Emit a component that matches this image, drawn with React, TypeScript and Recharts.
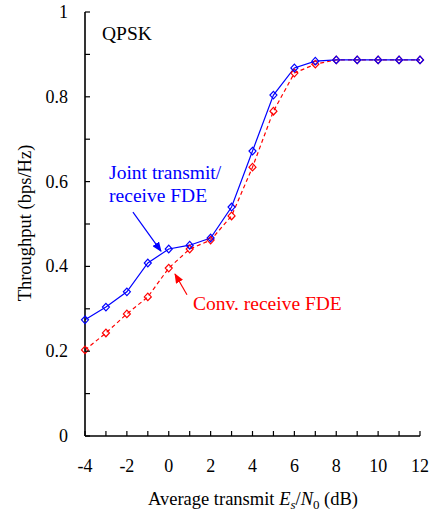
import { LineChart, Line, XAxis, YAxis } from "recharts";

const snr = [-4, -3, -2, -1, 0, 1, 2, 3, 4, 5, 6, 7, 8, 9, 10, 11, 12];
const joint = [0.274, 0.304, 0.34, 0.408, 0.441, 0.45, 0.467, 0.54, 0.672, 0.804, 0.868, 0.884, 0.887, 0.887, 0.887, 0.887, 0.887];
const conv = [0.203, 0.243, 0.288, 0.328, 0.396, 0.441, 0.462, 0.519, 0.634, 0.766, 0.856, 0.877, 0.887, 0.887, 0.887, 0.887, 0.887];

const xTicks = [-4, -3, -2, -1, 0, 1, 2, 3, 4, 5, 6, 7, 8, 9, 10, 11, 12];
const yTicks = [0, 0.1, 0.2, 0.3, 0.4, 0.5, 0.6, 0.7, 0.8, 0.9, 1];

const data = snr.map((s, i) => ({ snr: s, joint: joint[i], conv: conv[i] }));

const W = 434;
const H = 515;
const LEFT = 85;
const RIGHT = 14;
const TOP = 12;
const XAXIS_H = 79;
const PLOT_W = W - LEFT - RIGHT;
const PLOT_H = H - TOP - XAXIS_H;
const FONT = "'Liberation Serif', 'Times New Roman', serif";

// data -> pixel, for the annotations
const sx = (v: number) => LEFT + ((v + 4) / 16) * PLOT_W;
const sy = (v: number) => TOP + (1 - v) * PLOT_H;

const XTick = ({ x, y, payload }: any) => {
  const v = payload.value;
  return (
    <g>
      <line x1={x} x2={x} y1={y} y2={y - 5} stroke="#000" strokeWidth={1.2} />
      {v % 2 === 0 && (
        <text x={x} y={y + 36} textAnchor="middle" fontSize={18} fontFamily={FONT} fill="#000">
          {v}
        </text>
      )}
    </g>
  );
};

const YTick = ({ x, y, payload }: any) => {
  const v = payload.value;
  const even = Math.round(v * 10) % 2 === 0;
  return (
    <g>
      <line x1={x} x2={x + 5} y1={y} y2={y} stroke="#000" strokeWidth={1.2} />
      {even && (
        <text x={x - 17} y={y + 6} textAnchor="end" fontSize={18} fontFamily={FONT} fill="#000">
          {Number(v.toFixed(1))}
        </text>
      )}
    </g>
  );
};

const diamond = (color: string) => (props: any) => {
  const { cx, cy, index } = props;
  if (cx == null || cy == null) return <g key={index} />;
  return (
    <path
      key={index}
      d={`M${cx},${cy - 3.8} L${cx + 3.5},${cy} L${cx},${cy + 3.8} L${cx - 3.5},${cy} Z`}
      fill="none"
      stroke={color}
      strokeWidth={1.2}
    />
  );
};

export default function App() {
  return (
    <div style={{ position: "absolute", left: 0, top: 0, width: W, height: H, background: "#fff" }}>
      <LineChart width={W} height={H} data={data} margin={{ top: TOP, right: RIGHT, bottom: 0, left: 0 }}>
        <XAxis
          dataKey="snr"
          type="number"
          domain={[-4, 12]}
          ticks={xTicks}
          interval={0}
          height={XAXIS_H}
          tickSize={0}
          tickMargin={0}
          tick={<XTick />}
          axisLine={{ stroke: "#000", strokeWidth: 1.6 }}
        />
        <XAxis
          xAxisId="top"
          orientation="top"
          type="number"
          domain={[-4, 12]}
          height={0}
          tick={false}
          tickLine={false}
          axisLine={{ stroke: "#000", strokeWidth: 1.2 }}
        />
        <YAxis
          type="number"
          domain={[0, 1]}
          ticks={yTicks}
          interval={0}
          width={LEFT}
          tickSize={0}
          tickMargin={0}
          tick={<YTick />}
          axisLine={{ stroke: "#000", strokeWidth: 1.6 }}
        />
        <YAxis
          yAxisId="right"
          orientation="right"
          type="number"
          domain={[0, 1]}
          width={0}
          tick={false}
          tickLine={false}
          axisLine={{ stroke: "#808080", strokeWidth: 2 }}
        />
        <Line
          dataKey="conv"
          stroke="#ff0000"
          strokeWidth={1.2}
          strokeDasharray="4 3"
          dot={diamond("#ff0000")}
          isAnimationActive={false}
        />
        <Line
          dataKey="joint"
          stroke="#0000ff"
          strokeWidth={1.2}
          dot={diamond("#0000ff")}
          isAnimationActive={false}
        />
      </LineChart>
      <svg
        width={W}
        height={H}
        style={{ position: "absolute", left: 0, top: 0, pointerEvents: "none" }}
        fontFamily={FONT}
      >
        <defs>
          <marker id="ab" markerWidth="10" markerHeight="8" refX="9" refY="4" orient="auto" markerUnits="userSpaceOnUse">
            <path d="M0,0 L10,4 L0,8 Z" fill="#0000ff" />
          </marker>
          <marker id="ar" markerWidth="10" markerHeight="8" refX="9" refY="4" orient="auto" markerUnits="userSpaceOnUse">
            <path d="M0,0 L10,4 L0,8 Z" fill="#ff0000" />
          </marker>
        </defs>
        <text x={sx(-3.19)} y={sy(0.934)} fontSize={19.5} fill="#000">QPSK</text>
        <text x={sx(-2.85)} y={sy(0.606)} fontSize={19.5} fill="#0000ff">Joint transmit/</text>
        <text x={sx(-2.85)} y={sy(0.552)} fontSize={19.5} fill="#0000ff">receive FDE</text>
        <line x1={sx(-1.71)} y1={sy(0.528)} x2={sx(-0.37)} y2={sy(0.436)} stroke="#0000ff" strokeWidth={1.2} markerEnd="url(#ab)" />
        <text x={sx(1.16)} y={sy(0.297)} fontSize={19.5} fill="#ff0000">Conv. receive FDE</text>
        <line x1={sx(0.87)} y1={sy(0.333)} x2={sx(0.3)} y2={sy(0.382)} stroke="#ff0000" strokeWidth={1.2} markerEnd="url(#ar)" />
        <text x={31} y={223} transform="rotate(-90 31 223)" textAnchor="middle" fontSize={18.5} fill="#000">
          Throughput (bps/Hz)
        </text>
        <text x={253} y={505} textAnchor="middle" fontSize={18.5} fill="#000">
          Average transmit <tspan fontStyle="italic">E</tspan>
          <tspan fontStyle="italic" fontSize={13} dy={4}>s</tspan>
          <tspan dy={-4}>/</tspan>
          <tspan fontStyle="italic">N</tspan>
          <tspan fontSize={13} dy={4}>0</tspan>
          <tspan dy={-4}> (dB)</tspan>
        </text>
      </svg>
    </div>
  );
}
